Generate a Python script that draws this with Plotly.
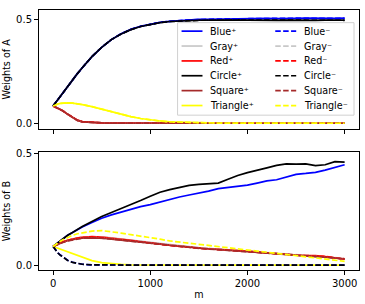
import plotly.graph_objects as go

# ---------------- data ----------------
m_values = [0, 25, 50, 75, 100, 150, 200, 250, 300, 400,
            500, 600, 700, 800, 900, 1000, 1100, 1200, 1300, 1400,
            1500, 1600, 1700, 1800, 1900, 2000, 2100, 2200, 2300, 2400,
            2500, 2600, 2700, 2800, 2900, 3000]

series_names = ["Blue", "Gray", "Red", "Circle", "Square", "Triangle"]
series_colors = ["#0000ff", "#c8c8c8", "#ff0000", "#000000", "#a52a2a", "#ffff00"]

# Panel A (weights of A)
a_blue_pos = [0.083, 0.099, 0.115, 0.131, 0.147, 0.178, 0.209, 0.239, 0.267, 0.321,
              0.366, 0.403, 0.431, 0.452, 0.467, 0.478, 0.486, 0.491, 0.495, 0.498,
              0.500, 0.501, 0.502, 0.502, 0.503, 0.504, 0.503, 0.505, 0.504, 0.506,
              0.505, 0.506, 0.505, 0.506, 0.505, 0.506]
a_gray_pos = [0.083, 0.079, 0.074, 0.068, 0.061, 0.044, 0.028, 0.015, 0.008, 0.003,
              0.0015, 0.001, 0.0005, 0.0003, 0.0002, 0.0, 0.0, 0.0, 0.0, 0.0,
              0.0, 0.0, 0.0, 0.0, 0.0, 0.0, 0.0, 0.0, 0.0, 0.0,
              0.0, 0.0, 0.0, 0.0, 0.0, 0.0]
a_red_pos = [0.083, 0.078, 0.073, 0.067, 0.060, 0.043, 0.027, 0.015, 0.008, 0.003,
             0.0015, 0.001, 0.0005, 0.0003, 0.0002, 0.0, 0.0, 0.0, 0.0, 0.0,
             0.0, 0.0, 0.0, 0.0, 0.0, 0.0, 0.0, 0.0, 0.0, 0.0,
             0.0, 0.0, 0.0, 0.0, 0.0, 0.0]
a_circle_pos = [0.083, 0.099, 0.115, 0.131, 0.147, 0.178, 0.209, 0.239, 0.267, 0.321,
                0.366, 0.403, 0.430, 0.451, 0.466, 0.477, 0.485, 0.490, 0.493, 0.495,
                0.497, 0.497, 0.498, 0.497, 0.498, 0.497, 0.496, 0.497, 0.496, 0.497,
                0.496, 0.497, 0.496, 0.497, 0.497, 0.497]
a_square_pos = [0.083, 0.078, 0.073, 0.067, 0.060, 0.043, 0.027, 0.014, 0.007, 0.003,
                0.0015, 0.001, 0.0005, 0.0003, 0.0002, 0.0, 0.0, 0.0, 0.0, 0.0,
                0.0, 0.0, 0.0, 0.0, 0.0, 0.0, 0.0, 0.0, 0.0, 0.0,
                0.0, 0.0, 0.0, 0.0, 0.0, 0.0]
a_triangle_pos = [0.083, 0.089, 0.093, 0.096, 0.097, 0.098, 0.097, 0.094, 0.090, 0.080,
                  0.068, 0.055, 0.043, 0.032, 0.023, 0.016, 0.011, 0.007, 0.005, 0.003,
                  0.002, 0.0015, 0.001, 0.001, 0.0005, 0.0005, 0.0, 0.0, 0.0, 0.0,
                  0.0, 0.0, 0.0, 0.0, 0.0, 0.0]
a_blue_neg = [0.083, 0.099, 0.115, 0.131, 0.147, 0.178, 0.209, 0.239, 0.267, 0.321,
              0.366, 0.403, 0.431, 0.452, 0.467, 0.478, 0.486, 0.491, 0.495, 0.498,
              0.499, 0.501, 0.502, 0.503, 0.503, 0.504, 0.504, 0.505, 0.505, 0.505,
              0.506, 0.505, 0.506, 0.506, 0.505, 0.505]
a_gray_neg = [0.083, 0.079, 0.074, 0.068, 0.061, 0.044, 0.028, 0.015, 0.008, 0.003,
              0.0015, 0.001, 0.0005, 0.0003, 0.0002, 0.0, 0.0, 0.0, 0.0, 0.0,
              0.0, 0.0, 0.0, 0.0, 0.0, 0.0, 0.0, 0.0, 0.0, 0.0,
              0.0, 0.0, 0.0, 0.0, 0.0, 0.0]
a_red_neg = [0.083, 0.078, 0.073, 0.067, 0.060, 0.044, 0.028, 0.015, 0.008, 0.003,
             0.0015, 0.001, 0.0005, 0.0003, 0.0002, 0.0, 0.0, 0.0, 0.0, 0.0,
             0.0, 0.0, 0.0, 0.0, 0.0, 0.0, 0.0, 0.0, 0.0, 0.0,
             0.0, 0.0, 0.0, 0.0, 0.0, 0.0]
a_circle_neg = [0.083, 0.099, 0.115, 0.131, 0.147, 0.178, 0.209, 0.239, 0.267, 0.321,
                0.366, 0.403, 0.430, 0.451, 0.466, 0.477, 0.485, 0.490, 0.493, 0.495,
                0.496, 0.497, 0.497, 0.498, 0.497, 0.497, 0.497, 0.496, 0.497, 0.496,
                0.497, 0.496, 0.497, 0.496, 0.497, 0.496]
a_square_neg = [0.083, 0.078, 0.072, 0.066, 0.059, 0.043, 0.027, 0.014, 0.007, 0.003,
                0.0015, 0.001, 0.0005, 0.0003, 0.0002, 0.0, 0.0, 0.0, 0.0, 0.0,
                0.0, 0.0, 0.0, 0.0, 0.0, 0.0, 0.0, 0.0, 0.0, 0.0,
                0.0, 0.0, 0.0, 0.0, 0.0, 0.0]
a_triangle_neg = [0.083, 0.089, 0.093, 0.096, 0.097, 0.098, 0.097, 0.094, 0.090, 0.080,
                  0.068, 0.055, 0.043, 0.032, 0.023, 0.016, 0.011, 0.007, 0.005, 0.003,
                  0.002, 0.0015, 0.001, 0.001, 0.0005, 0.0005, 0.0, 0.0, 0.0, 0.0,
                  0.0, 0.0, 0.0, 0.0, 0.0, 0.0]

# Panel B (weights of B)
b_blue_pos = [0.083, 0.092, 0.100, 0.109, 0.117, 0.133, 0.146, 0.159, 0.170, 0.190,
              0.209, 0.224, 0.237, 0.250, 0.261, 0.270, 0.282, 0.291, 0.304, 0.313,
              0.320, 0.330, 0.341, 0.347, 0.350, 0.357, 0.366, 0.376, 0.381, 0.393,
              0.405, 0.409, 0.414, 0.424, 0.436, 0.448]
b_gray_pos = [0.083, 0.089, 0.095, 0.100, 0.104, 0.112, 0.118, 0.122, 0.125, 0.127,
              0.126, 0.122, 0.117, 0.112, 0.106, 0.100, 0.095, 0.090, 0.086, 0.081,
              0.077, 0.074, 0.071, 0.068, 0.065, 0.061, 0.058, 0.055, 0.051, 0.047,
              0.045, 0.043, 0.041, 0.038, 0.033, 0.028]
b_red_pos = [0.083, 0.089, 0.095, 0.100, 0.104, 0.111, 0.117, 0.121, 0.124, 0.127,
             0.125, 0.121, 0.116, 0.111, 0.105, 0.099, 0.094, 0.089, 0.085, 0.080,
             0.076, 0.073, 0.070, 0.068, 0.066, 0.062, 0.058, 0.054, 0.050, 0.047,
             0.044, 0.042, 0.042, 0.038, 0.032, 0.027]
b_circle_pos = [0.083, 0.092, 0.100, 0.109, 0.117, 0.133, 0.146, 0.160, 0.172, 0.195,
                0.217, 0.235, 0.252, 0.270, 0.288, 0.307, 0.325, 0.337, 0.348, 0.356,
                0.360, 0.362, 0.366, 0.383, 0.400, 0.413, 0.425, 0.434, 0.445, 0.452,
                0.451, 0.452, 0.444, 0.448, 0.462, 0.460]
b_square_pos = [0.083, 0.088, 0.093, 0.098, 0.102, 0.109, 0.114, 0.118, 0.120, 0.122,
                0.120, 0.117, 0.112, 0.107, 0.102, 0.097, 0.092, 0.088, 0.084, 0.080,
                0.076, 0.072, 0.069, 0.066, 0.063, 0.060, 0.057, 0.053, 0.049, 0.046,
                0.043, 0.041, 0.040, 0.037, 0.032, 0.027]
b_triangle_pos = [0.083, 0.079, 0.076, 0.072, 0.068, 0.060, 0.052, 0.043, 0.034, 0.020,
                  0.011, 0.006, 0.003, 0.0015, 0.001, 0.0005, 0.0, 0.0, 0.0, 0.0,
                  0.0, 0.0, 0.0, 0.0, 0.0, 0.0, 0.0, 0.0, 0.0, 0.0,
                  0.0, 0.0, 0.0, 0.0, 0.0, 0.0]
b_blue_neg = [0.083, 0.068, 0.055, 0.045, 0.036, 0.022, 0.013, 0.007, 0.004, 0.001,
              0.0003, 0.0, 0.0, 0.0, 0.0, 0.0, 0.0, 0.0, 0.0, 0.0,
              0.0, 0.0, 0.0, 0.0, 0.0, 0.0, 0.0, 0.0, 0.0, 0.0,
              0.0, 0.0, 0.0, 0.0, 0.0, 0.0]
b_gray_neg = [0.083, 0.089, 0.094, 0.099, 0.103, 0.110, 0.116, 0.120, 0.123, 0.126,
              0.125, 0.121, 0.116, 0.111, 0.106, 0.100, 0.095, 0.091, 0.087, 0.082,
              0.078, 0.075, 0.072, 0.069, 0.066, 0.062, 0.059, 0.055, 0.052, 0.048,
              0.045, 0.043, 0.042, 0.039, 0.034, 0.029]
b_red_neg = [0.083, 0.089, 0.095, 0.100, 0.104, 0.111, 0.117, 0.121, 0.124, 0.126,
             0.124, 0.120, 0.115, 0.110, 0.104, 0.098, 0.093, 0.088, 0.084, 0.079,
             0.075, 0.072, 0.070, 0.068, 0.066, 0.062, 0.059, 0.055, 0.051, 0.048,
             0.045, 0.043, 0.042, 0.039, 0.033, 0.028]
b_circle_neg = [0.083, 0.067, 0.054, 0.044, 0.035, 0.021, 0.012, 0.007, 0.004, 0.001,
                0.0003, 0.0, 0.0, 0.0, 0.0, 0.0, 0.0, 0.0, 0.0, 0.0,
                0.0, 0.0, 0.0, 0.0, 0.0, 0.0, 0.0, 0.0, 0.0, 0.0,
                0.0, 0.0, 0.0, 0.0, 0.0, 0.0]
b_square_neg = [0.083, 0.088, 0.093, 0.097, 0.101, 0.108, 0.113, 0.117, 0.120, 0.122,
                0.121, 0.117, 0.112, 0.107, 0.102, 0.097, 0.092, 0.087, 0.083, 0.079,
                0.075, 0.072, 0.069, 0.066, 0.063, 0.060, 0.056, 0.053, 0.049, 0.046,
                0.043, 0.041, 0.040, 0.037, 0.032, 0.027]
b_triangle_neg = [0.083, 0.092, 0.100, 0.107, 0.113, 0.124, 0.133, 0.140, 0.145, 0.152,
                  0.154, 0.150, 0.143, 0.136, 0.130, 0.123, 0.116, 0.108, 0.103, 0.097,
                  0.091, 0.086, 0.081, 0.077, 0.072, 0.067, 0.062, 0.057, 0.052, 0.048,
                  0.043, 0.039, 0.034, 0.029, 0.023, 0.017]

x_ticks = [0, 1000, 2000, 3000]
y_ticks = [0.0, 0.5]
y_tick_labels = ["0.0", "0.5"]
x_label = "m"
y_label_a = "Weights of A"
y_label_b = "Weights of B"
sign_pos = "\u207a"
sign_neg = "\u207b"

# ---------------- figure ----------------
W, H = 365, 304
ML, MR, MT, MB = 39, 5, 5, 32
PW, PH = W - ML - MR, H - MT - MB

def px_x(px):
    return (px - ML) / PW

def px_y(py):
    return (H - MB - py) / PH

FONT = "DejaVu Sans"
DASH = "5.5px,2.4px"
LW = 1.7

fig = go.Figure()

panel_a_pos = [a_blue_pos, a_gray_pos, a_red_pos, a_circle_pos, a_square_pos, a_triangle_pos]
panel_a_neg = [a_blue_neg, a_gray_neg, a_red_neg, a_circle_neg, a_square_neg, a_triangle_neg]
panel_b_pos = [b_blue_pos, b_gray_pos, b_red_pos, b_circle_pos, b_square_pos, b_triangle_pos]
panel_b_neg = [b_blue_neg, b_gray_neg, b_red_neg, b_circle_neg, b_square_neg, b_triangle_neg]

for (pos, neg, xa, ya) in [(panel_a_pos, panel_a_neg, "x", "y"),
                           (panel_b_pos, panel_b_neg, "x2", "y2")]:
    for name, color, vals in zip(series_names, series_colors, pos):
        fig.add_trace(go.Scatter(x=m_values, y=vals, mode="lines", name=name + sign_pos,
                                 line=dict(color=color, width=LW),
                                 xaxis=xa, yaxis=ya, showlegend=False))
    for name, color, vals in zip(series_names, series_colors, neg):
        fig.add_trace(go.Scatter(x=m_values, y=vals, mode="lines", name=name + sign_neg,
                                 line=dict(color=color, width=LW, dash=DASH),
                                 xaxis=xa, yaxis=ya, showlegend=False))

axis_common = dict(showline=True, linecolor="#000000", linewidth=1, mirror=True,
                   ticks="outside", ticklen=4, tickwidth=1, tickcolor="#000000",
                   showgrid=False, zeroline=False,
                   tickfont=dict(family=FONT, size=10, color="#000000"))

x_range = [-145, 3148]
fig.update_layout(
    width=W, height=H,
    margin=dict(l=ML, r=MR, t=MT, b=MB),
    paper_bgcolor="white", plot_bgcolor="white",
    showlegend=False,
    xaxis=dict(domain=[0, 1], anchor="y", range=x_range, tickvals=x_ticks,
               showticklabels=False, matches="x2", **axis_common),
    yaxis=dict(domain=[px_y(127), 1], anchor="x", range=[-0.0267, 0.5455],
               tickvals=y_ticks, ticktext=y_tick_labels,
               title=dict(text=y_label_a, standoff=3, font=dict(family=FONT, size=9.6, color="#000000")),
               **axis_common),
    xaxis2=dict(domain=[0, 1], anchor="y2", range=x_range, tickvals=x_ticks,
                title=dict(text=x_label, standoff=3, font=dict(family=FONT, size=9.6, color="#000000")),
                **axis_common),
    yaxis2=dict(domain=[0, px_y(151)], anchor="x2", range=[-0.0217, 0.504],
                tickvals=y_ticks, ticktext=y_tick_labels,
                title=dict(text=y_label_b, standoff=3, font=dict(family=FONT, size=9.6, color="#000000")),
                **axis_common),
)

# ---------------- legend (two columns, drawn as in the original) ----------------
box_l, box_r, box_t, box_b = 178, 355, 18, 113
fig.add_shape(type="rect", xref="paper", yref="paper",
              x0=px_x(box_l), x1=px_x(box_r), y0=px_y(box_b), y1=px_y(box_t),
              line=dict(color="#d0d0d0", width=1), fillcolor="rgba(255,255,255,0.8)",
              layer="above")
row_y = [26.7, 42.0, 57.3, 72.5, 87.8, 103.1]
cols = [(182, 203, 209, sign_pos, None), (276, 297, 303, sign_neg, DASH)]
for (lx0, lx1, tx, sign, dash) in cols:
    for name, color, ry in zip(series_names, series_colors, row_y):
        fig.add_shape(type="line", xref="paper", yref="paper",
                      x0=px_x(lx0), x1=px_x(lx1), y0=px_y(ry), y1=px_y(ry),
                      line=dict(color=color, width=LW, dash=dash), layer="above")
        fig.add_annotation(xref="paper", yref="paper", x=px_x(tx), y=px_y(ry),
                           text=name + sign, showarrow=False,
                           xanchor="left", yanchor="middle",
                           font=dict(family=FONT, size=9.6, color="#000000"))

fig.write_html("out.html", config={"displayModeBar": False},
               post_script="document.body.style.margin='0px';document.body.style.overflow='hidden';")
